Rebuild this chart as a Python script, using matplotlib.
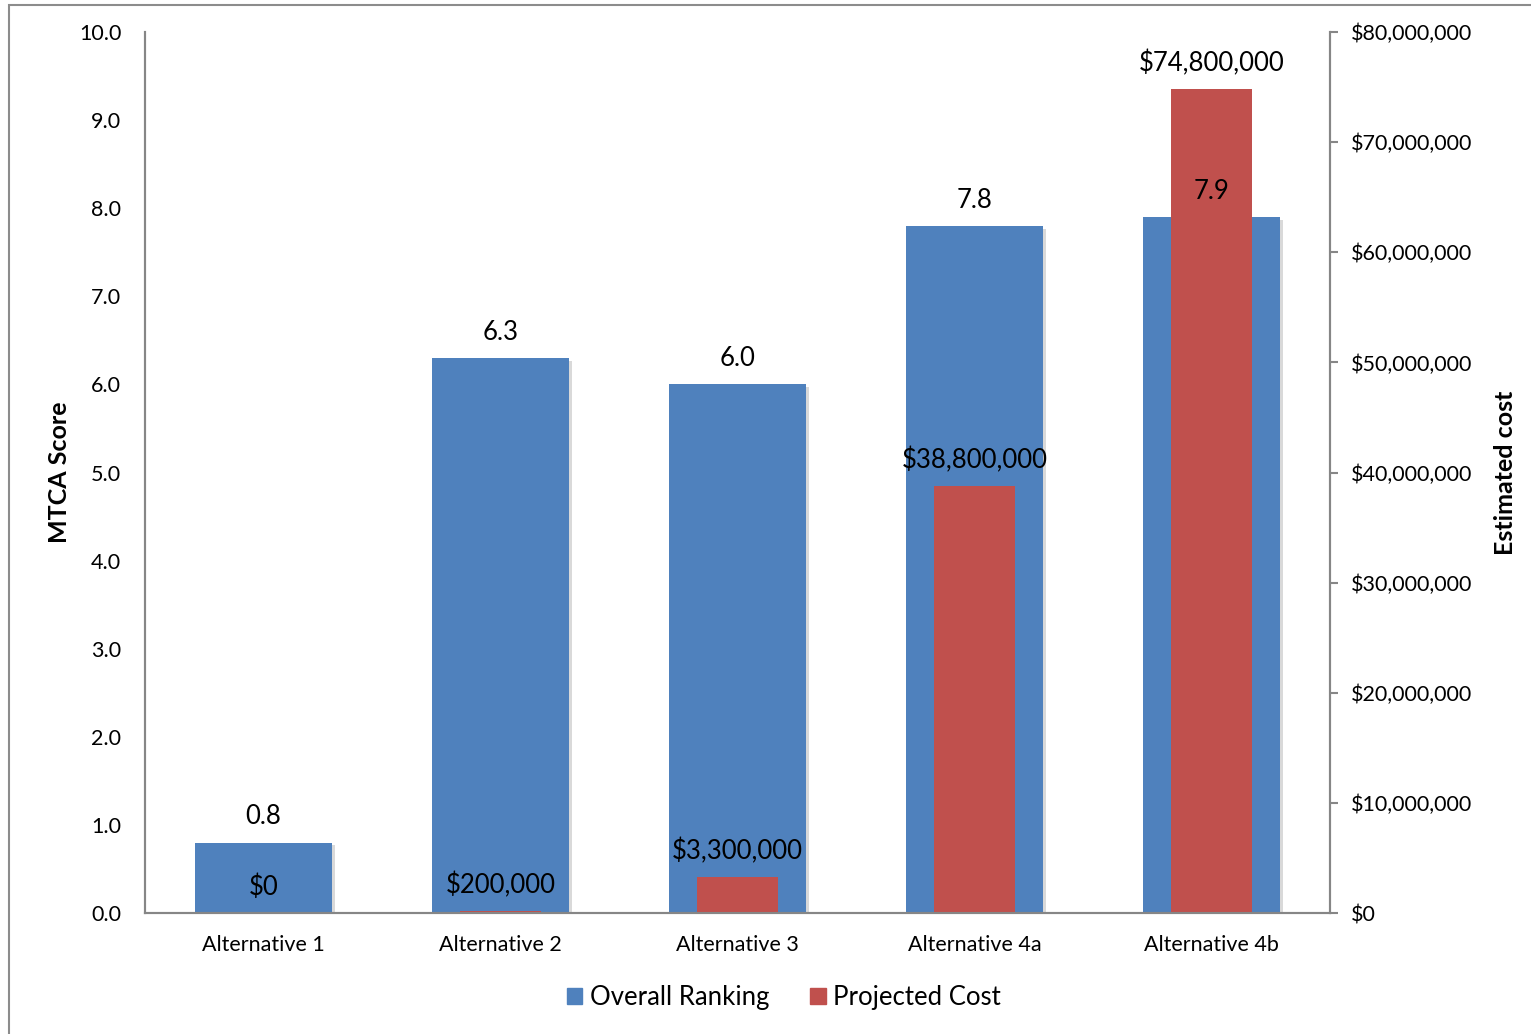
import matplotlib
matplotlib.use("Agg")
import matplotlib.pyplot as plt
import matplotlib.patheffects as pe
from matplotlib.ticker import FuncFormatter, MultipleLocator
from matplotlib.patches import Rectangle
import numpy as np

plt.rcParams['font.family'] = ['Lato', 'DejaVu Sans']

categories = ["Alternative 1", "Alternative 2", "Alternative 3", "Alternative 4a", "Alternative 4b"]
mtca_scores = [0.8, 6.3, 6.0, 7.8, 7.9]
projected_costs = [0, 200_000, 3_300_000, 38_800_000, 74_800_000]

blue = "#4F81BD"
red = "#C0504D"
axis_gray = "#868686"

fig = plt.figure(figsize=(15.31, 10.34), dpi=100)
ax = fig.add_axes([0.0947, 0.117, 0.774, 0.852])
ax2 = ax.twinx()

x = np.arange(len(categories))

bars1 = ax.bar(x, mtca_scores, width=0.58, color=blue, zorder=2)
for b in bars1:
    b.set_path_effects([pe.SimplePatchShadow(offset=(2, -2), shadow_rgbFace="black", alpha=0.15), pe.Normal()])
bars2 = ax2.bar(x, projected_costs, width=0.345, color=red, zorder=2)

ax.set_ylim(0, 10)
ax2.set_ylim(0, 80_000_000)
ax.set_xlim(-0.5, len(categories) - 0.5)

ax.yaxis.set_major_locator(MultipleLocator(1.0))
ax.yaxis.set_major_formatter(FuncFormatter(lambda v, p: f"{v:.1f}"))
ax2.yaxis.set_major_locator(MultipleLocator(10_000_000))
ax2.yaxis.set_major_formatter(FuncFormatter(lambda v, p: f"${v:,.0f}"))

ax.set_xticks(x)
ax.set_xticklabels(categories, fontsize=15.5)
ax.tick_params(axis='x', length=0, pad=16)
ax.tick_params(axis='y', length=0, labelsize=15.5, pad=17)
ax2.tick_params(axis='y', length=6, width=1.5, color=axis_gray, labelsize=15.5, pad=9, direction='out')

for a in (ax, ax2):
    a.spines['top'].set_visible(False)
    for s in ('left', 'right', 'bottom'):
        a.spines[s].set_color(axis_gray)
        a.spines[s].set_linewidth(1.5)

ax.set_ylabel("MTCA Score", fontsize=18, fontweight='bold', labelpad=6)
ax2.set_ylabel("Estimated cost", fontsize=18, fontweight='bold', labelpad=16)

# value labels, drawn on the top axes so none are hidden behind bars
for xi, v in zip(x, mtca_scores):
    ax2.annotate(f"{v:.1f}", (xi, v), xycoords=ax.transData, xytext=(0, 18.5),
                 textcoords='offset points', ha='center', va='center',
                 fontsize=18.5, zorder=5)
for xi, c in zip(x, projected_costs):
    ax2.annotate(f"${c:,.0f}", (xi, c), xytext=(0, 18.5), textcoords='offset points',
                 ha='center', va='center', fontsize=18.5, zorder=5)

handles = [Rectangle((0, 0), 1, 1, color=blue), Rectangle((0, 0), 1, 1, color=red)]
fig.legend(handles, ["Overall Ranking", "Projected Cost"], loc='center',
           bbox_to_anchor=(0.512, 0.0355), ncol=2, frameon=False, fontsize=18.5,
           handlelength=0.6, handleheight=0.6, handletextpad=0.3, columnspacing=1.6)

# outer chart border
fig.add_artist(Rectangle((9 / 1531, -0.01), 1.1, 1 - 5 / 1034 + 0.01,
                         transform=fig.transFigure, fill=False,
                         edgecolor="#8C8C8C", linewidth=1.5))

fig.savefig("out.png", dpi=100)
